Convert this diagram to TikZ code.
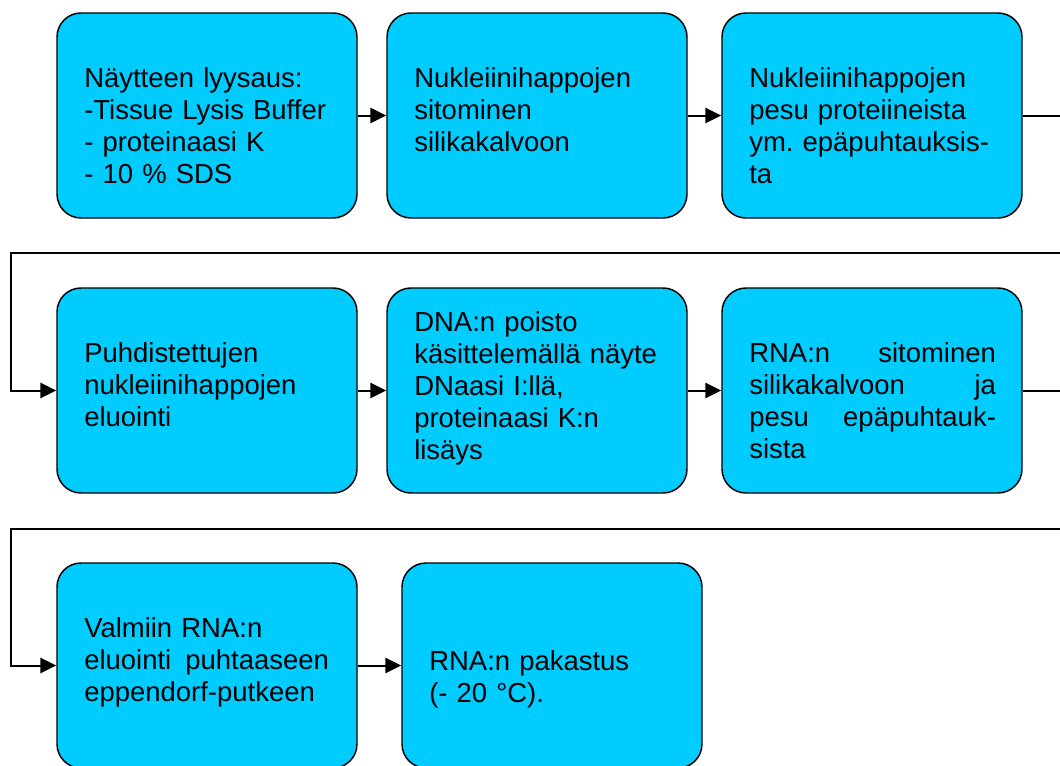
\documentclass[tikz,border=0pt]{standalone}
\usepackage{fontspec}
\setmainfont{Liberation Sans}
\usetikzlibrary{arrows.meta}
\definecolor{boxcyan}{RGB}{0,204,255}
\newcommand{\jline}[2]{\makebox[#1]{#2}}
\begin{document}
\begin{tikzpicture}[x=0.75pt,y=-0.75pt,
  stepbox/.style={draw=black, line width=1.1pt, fill=boxcyan, rounded corners=18pt,
    minimum width=225pt, minimum height=153.75pt, inner sep=0pt},
  steptext/.style={anchor=base west, inner sep=0pt, text width=186pt, align=left,
    font=\fontsize{20.6}{24}\selectfont},
  flow/.style={line width=1.5pt, -{Triangle[length=12pt,width=11.5pt]}}]
\useasboundingbox (0,0) rectangle (1060,765);
\fill[white] (0,0) rectangle (1060,765);
\clip (0,0) rectangle (1060,765);
% boxes
\node[stepbox] (b1) at (207,115.5) {};
\node[stepbox] (b2) at (537,115.5) {};
\node[stepbox] (b3) at (872,115.5) {};
\node[stepbox] (b4) at (207,390.5) {};
\node[stepbox] (b5) at (537,390.5) {};
\node[stepbox] (b6) at (872,390.5) {};
\node[stepbox] (b7) at (207,665.5) {};
\node[stepbox] (b8) at (552,665.5) {};
% texts
\node[steptext] (t1) at (84,87) {Näytteen lyysaus:\\-Tissue Lysis Buffer\\- proteinaasi K\\- 10 \% SDS};
\node[steptext] (t2) at (414,87) {Nukleiinihappojen\\sitominen\\silikakalvoon};
\node[steptext] (t3) at (749,87) {Nukleiinihappojen\\pesu proteiineista\\ym.\ epäpuhtauksis-\\ta};
\node[steptext] (t4) at (84,362) {Puhdistettujen\\nukleiinihappojen\\eluointi};
\node[steptext] (t5) at (414,331) {DNA:n poisto\\käsittelemällä näyte\\DNaasi I:llä,\\proteinaasi K:n\\lisäys};
\node[steptext] (t6) at (749,362) {\jline{185pt}{RNA:n\hfill sitominen}\\\jline{185pt}{silikakalvoon\hfill ja}\\\jline{185pt}{pesu\hfill epäpuhtauk-}\\sista};
\node[steptext] (t7) at (84,637) {Valmiin RNA:n\\\jline{183.5pt}{eluointi\hfill puhtaaseen}\\eppendorf-putkeen};
\node[steptext] (t8) at (429,670) {RNA:n pakastus\\(- 20 °C).};
% connectors
\coordinate (r1) at (1075,115.5);
\coordinate (r2) at (1075,390.5);
\draw[flow] (b1.east) -- (b2.west);
\draw[flow] (b2.east) -- (b3.west);
\draw[flow] (b3.east) -- (r1) |- (11,253) |- (b4.west);
\draw[flow] (b4.east) -- (b5.west);
\draw[flow] (b5.east) -- (b6.west);
\draw[flow] (b6.east) -- (r2) |- (11,528.5) |- (b7.west);
\draw[flow] (b7.east) -- (b8.west);
\end{tikzpicture}
\end{document}
